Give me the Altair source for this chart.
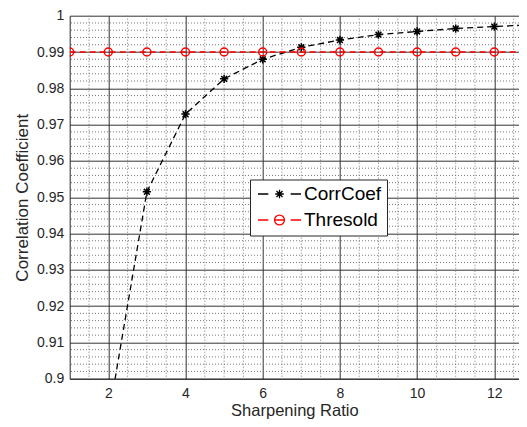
import altair as alt
import pandas as pd

# ---- data ----
corr_x = [2, 3, 4, 5, 6, 7, 8, 9, 10, 11, 12, 13]
corr_y = [0.889, 0.9515, 0.9729, 0.9826, 0.9880, 0.9913, 0.9933, 0.9948, 0.99565, 0.99646, 0.9970, 0.9975]
thr_x = [1, 2, 3, 4, 5, 6, 7, 8, 9, 10, 11, 12, 13]
thr_y = [0.99] * 13
series_names = ["CorrCoef", "Thresold"]
x_major = [2, 4, 6, 8, 10, 12]
y_major = [0.90, 0.91, 0.92, 0.93, 0.94, 0.95, 0.96, 0.97, 0.98, 0.99, 1.00]
x_minor = [1.5, 2.5, 3, 3.5, 4.5, 5, 5.5, 6.5, 7, 7.5, 8.5, 9, 9.5, 10.5, 11, 11.5, 12.5]
y_minor = [0.902, 0.904, 0.906, 0.908, 0.912, 0.914, 0.916, 0.918, 0.922, 0.924, 0.926, 0.928,
           0.932, 0.934, 0.936, 0.938, 0.942, 0.944, 0.946, 0.948, 0.952, 0.954, 0.956, 0.958,
           0.962, 0.964, 0.966, 0.968, 0.972, 0.974, 0.976, 0.978, 0.982, 0.984, 0.986, 0.988,
           0.992, 0.994, 0.996, 0.998]

df = pd.DataFrame({
    "x": corr_x + thr_x,
    "y": corr_y + thr_y,
    "series": [series_names[0]] * len(corr_x) + [series_names[1]] * len(thr_x),
})
df_xm = pd.DataFrame({"x": x_minor})
df_ym = pd.DataFrame({"y": y_minor})

FONT = "Liberation Sans"
TXT = "#262626"
STAR = "M0,-1L0,1M-1,0L1,0M-0.7,-0.7L0.7,0.7M-0.7,0.7L0.7,-0.7"
LEG_STAR = "M-5,0L-2.6,0M2.6,0L5,0" + STAR
LEG_CIRC = "M-5,0L-2.6,0M2.6,0L5,0M-1.15,0A1.15,1.15 0 1,0 1.15,0A1.15,1.15 0 1,0 -1.15,0M-1.15,0L1.15,0"

xscale = alt.Scale(domain=[1, 12.64], nice=False, zero=False)
yscale = alt.Scale(domain=[0.9, 1.0], nice=False, zero=False)

x_axis = alt.Axis(values=x_major, title="Sharpening Ratio", grid=True, gridColor="#333333",
                  gridWidth=1, ticks=False, domainColor=TXT, labelFont=FONT, labelFontSize=14,
                  labelColor=TXT, labelPadding=8, titleFont=FONT, titleFontSize=16.5,
                  titleFontWeight="normal", titleColor=TXT, titleBaseline="alphabetic",
                  titleY=36.5, labelFlush=False)
y_axis = alt.Axis(values=y_major, title="Correlation Coefficient", format=".2~f", grid=True,
                  gridColor="#333333", gridWidth=1, ticks=False, domainColor=TXT,
                  labelFont=FONT, labelFontSize=14, labelColor=TXT, labelPadding=6,
                  titleFont=FONT, titleFontSize=17, titleFontWeight="normal", titleColor=TXT,
                  titleX=-47, titleBaseline="middle", labelFlush=False)

X = alt.X("x:Q", scale=xscale, axis=x_axis)
Y = alt.Y("y:Q", scale=yscale, axis=y_axis)

minor_x = alt.Chart(df_xm).mark_rule(color="#777777", strokeDash=[1, 2], strokeWidth=1).encode(x=X)
minor_y = alt.Chart(df_ym).mark_rule(color="#777777", strokeDash=[1, 2], strokeWidth=1).encode(y=Y)

base = alt.Chart(df)

corr_line = base.transform_filter(alt.datum.series == "CorrCoef").mark_line(
    color="black", strokeDash=[6, 4], strokeWidth=1.3, clip=True).encode(x=X, y=Y)
corr_pts = base.transform_filter(alt.datum.series == "CorrCoef").mark_point(
    shape=STAR, filled=False, stroke="black", strokeWidth=1.5, size=69, clip=True, opacity=1).encode(x=X, y=Y)
thr_line = base.transform_filter(alt.datum.series == "Thresold").mark_line(
    color="red", strokeDash=[6, 4], strokeWidth=1.5, clip=True).encode(x=X, y=Y)
thr_pts = base.transform_filter(alt.datum.series == "Thresold").mark_point(
    shape="circle", filled=False, stroke="red", strokeWidth=1.5, size=64, clip=True, opacity=1).encode(x=X, y=Y)

leg = alt.Legend(orient="none", legendX=180.3, legendY=163.8, title=None, fillColor="white",
                 strokeColor=TXT, padding=5, symbolSize=74, symbolStrokeWidth=1.3,
                 symbolOffset=15, labelOffset=15, labelFontSize=19, labelFont=FONT,
                 labelColor="black", rowPadding=6, symbolOpacity=1, symbolFillColor="transparent")
legend_layer = base.mark_point(filled=False, opacity=0, clip=True).encode(
    x=X, y=Y,
    color=alt.Color("series:N", scale=alt.Scale(domain=series_names, range=["black", "red"]), legend=leg),
    shape=alt.Shape("series:N", scale=alt.Scale(domain=series_names, range=[LEG_STAR, LEG_CIRC]), legend=leg),
)

chart = alt.layer(minor_x, minor_y, corr_line, thr_line, corr_pts, thr_pts, legend_layer).properties(
    width=449.3, height=363, autosize="none",
    padding={"left": 61.7, "top": 7.7, "right": 0, "bottom": 40.3},
    background="white",
).configure_view(stroke=None)

chart.save("out.html", embed_options={"renderer": "svg", "actions": False})
